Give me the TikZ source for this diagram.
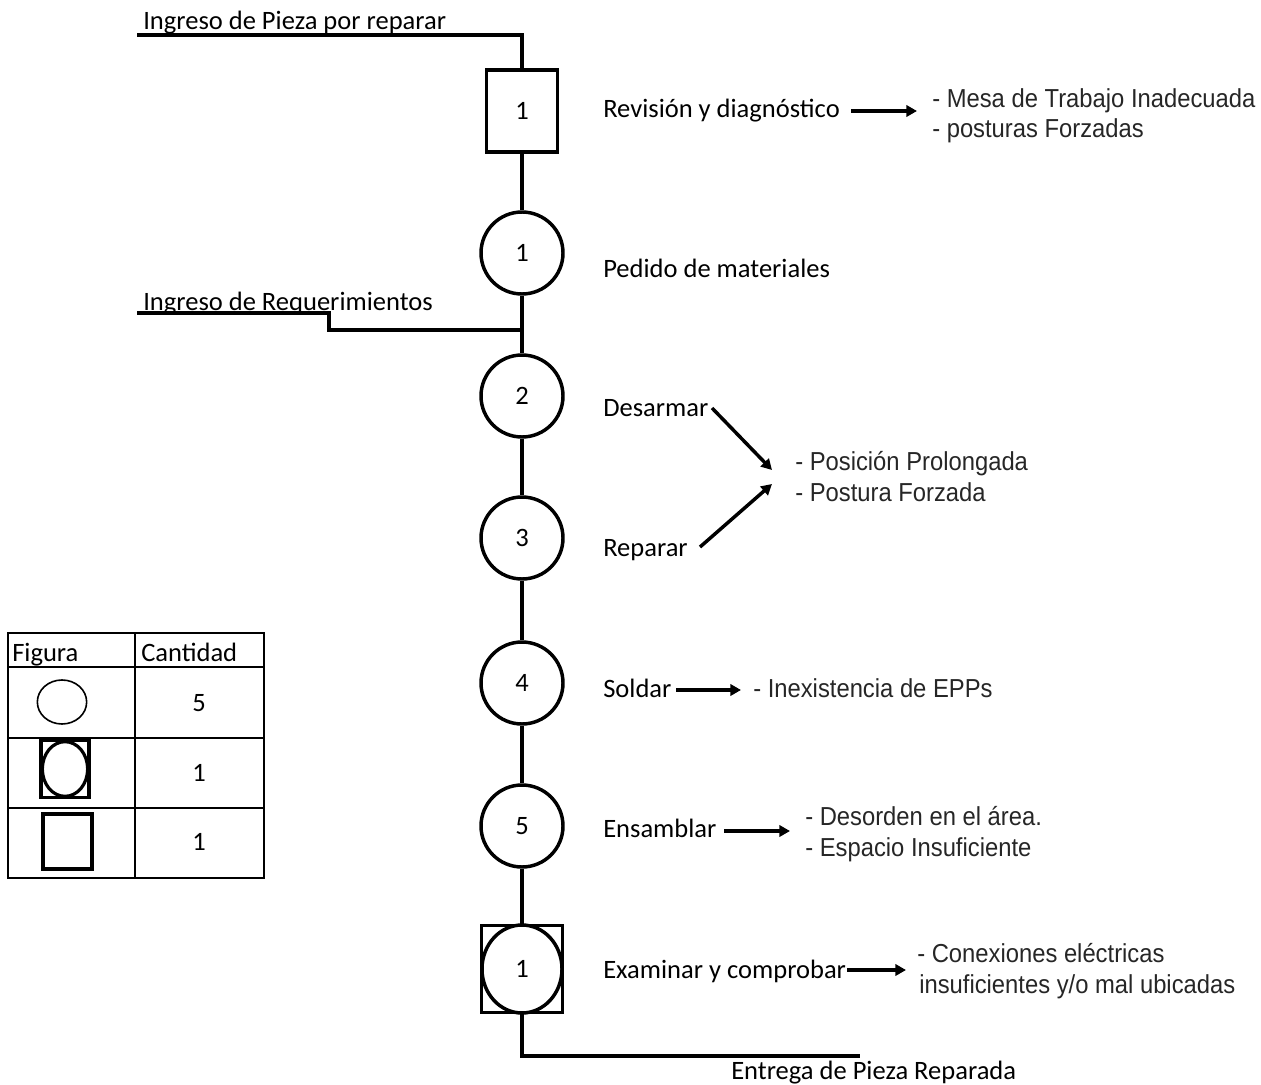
\documentclass[tikz,border=0pt]{standalone}
\usepackage{fontspec}
\setmainfont{Carlito}
\newfontfamily\listfont[FakeStretch=0.915]{Liberation Sans}
\usetikzlibrary{arrows.meta}
\begin{document}
\begin{tikzpicture}[x=0.75pt,y=-0.75pt,
  flow/.style={line width=2.6pt},
  opbox/.style={draw,line width=2.6pt,rectangle,minimum width=53pt,minimum height=61.5pt,inner sep=0pt,font=\fontsize{19.9}{24}\selectfont},
  opcirc/.style={draw,line width=2.6pt,circle,minimum size=61.5pt,inner sep=0pt,font=\fontsize{19.9}{24}\selectfont},
  inspbox/.style={draw,line width=2.6pt,rectangle,minimum width=61pt,minimum height=65.5pt,inner sep=0pt,font=\fontsize{19.9}{24}\selectfont},
  lbl/.style={anchor=base west,inner sep=0pt,font=\fontsize{19.9}{24}\selectfont},
  lst/.style={anchor=base west,inner sep=0pt,text=black!85,font=\listfont\fontsize{19.5}{22.5}\selectfont},
  num/.style={inner sep=0pt,font=\fontsize{19.9}{24}\selectfont},
  arr/.style={line width=2.6pt,-{Triangle[length=8pt,width=8.5pt]}},
  grid/.style={line width=1.1pt}]
\useasboundingbox (0,0) rectangle (1261,1085);

% ---- process chain ----
\node[opbox]  (op1)  at (522,111) {1};
\node[opcirc] (c1)   at (522,253) {1};
\node[opcirc] (c2)   at (522,396) {2};
\node[opcirc] (c3)   at (522,538) {3};
\node[opcirc] (c4)   at (522,683) {4};
\node[opcirc] (c5)   at (522,826) {5};
\node[inspbox] (insp) at (522,969) {1};
\draw[line width=2.6pt] (insp.center) ellipse [x radius=30pt,y radius=33pt];

\draw[flow] (op1.south) -- (c1.north);
\draw[flow] (c1.south) -- (c2.north);
\draw[flow] (c2.south) -- (c3.north);
\draw[flow] (c3.south) -- (c4.north);
\draw[flow] (c4.south) -- (c5.north);
\draw[flow] (c5.south) -- (insp.north);

% inputs and output
\coordinate (in1) at (137,35);
\draw[flow] (in1) -| (op1.north);
\node[lbl] (in1t) at (143,30) {Ingreso de Pieza por reparar};

\coordinate (in2) at (137,313);
\coordinate (join) at (522,330);
\draw[flow] (in2) -- ++(192,0) |- (join);
\node[lbl] (in2t) at (143,310) {Ingreso de Requerimientos};

\coordinate (out) at (860,1056);
\draw[flow] (insp.south) |- (out);
\node[lbl] (outt) at (731,1079) {Entrega de Pieza Reparada};

% ---- activity names ----
\node[lbl] (t1) at (603,117) {Revisión y diagnóstico};
\node[lbl] (t2) at (603,277) {Pedido de materiales};
\node[lbl] (t3) at (603,416) {Desarmar};
\node[lbl] (t4) at (603,556) {Reparar};
\node[lbl] (t5) at (603,697) {Soldar};
\node[lbl] (t6) at (603,837) {Ensamblar};
\node[lbl] (t7) at (603,978) {Examinar y comprobar};

% ---- risk factors ----
\node[lst] (r1a) at (932,107) {- Mesa de Trabajo Inadecuada};
\node[lst] (r1b) at (932,137) {- posturas Forzadas};
\node[lst] (r2a) at (795,470) {- Posición Prolongada};
\node[lst] (r2b) at (795,501) {- Postura Forzada};
\node[lst] (r3)  at (753,697) {- Inexistencia de EPPs};
\node[lst] (r4a) at (805,825) {- Desorden en el área.};
\node[lst] (r4b) at (805,856) {- Espacio Insuficiente};
\node[lst] (r5a) at (917,962) {- Conexiones eléctricas};
\node[lst] (r5b) at (919,993) {insuficientes y/o mal ubicadas};

\coordinate (a1s) at (851,111);  \coordinate (a1e) at (917,111);
\coordinate (a2s) at (712,408);  \coordinate (a2e) at (772,470);
\coordinate (a3s) at (700,547);  \coordinate (a3e) at (772,484);
\coordinate (a4s) at (676,690);  \coordinate (a4e) at (741,690);
\coordinate (a5s) at (724,831);  \coordinate (a5e) at (790,831);
\coordinate (a6s) at (847,970);  \coordinate (a6e) at (906,970);
\draw[arr] (a1s) -- (a1e);
\draw[arr] (a2s) -- (a2e);
\draw[arr] (a3s) -- (a3e);
\draw[arr] (a4s) -- (a4e);
\draw[arr] (a5s) -- (a5e);
\draw[arr] (a6s) -- (a6e);

% ---- legend table ----
\draw[grid] (8,633) rectangle (264,878);
\draw[grid] (135,633) -- (135,878);
\draw[grid] (8,667) -- (264,667);
\draw[grid] (8,738) -- (264,738);
\draw[grid] (8,808) -- (264,808);
\node[lbl] (hf) at (12,661) {Figura};
\node[lbl] (hc) at (141,661) {Cantidad};
\draw[line width=1.2pt] (62,702) ellipse [x radius=18.5pt,y radius=16.5pt];
\node[draw,line width=2.6pt,rectangle,minimum width=36pt,minimum height=42.5pt,inner sep=0pt] (lg2) at (65,769) {};
\draw[line width=2.4pt] (lg2.center) ellipse [x radius=17pt,y radius=20.5pt];
\node[draw,line width=2.6pt,rectangle,minimum width=37pt,minimum height=41pt,inner sep=0pt] (lg3) at (67.5,841.5) {};
\node[num] (n1) at (199,703) {5};
\node[num] (n2) at (199,773) {1};
\node[num] (n3) at (199,842) {1};
\end{tikzpicture}
\end{document}
